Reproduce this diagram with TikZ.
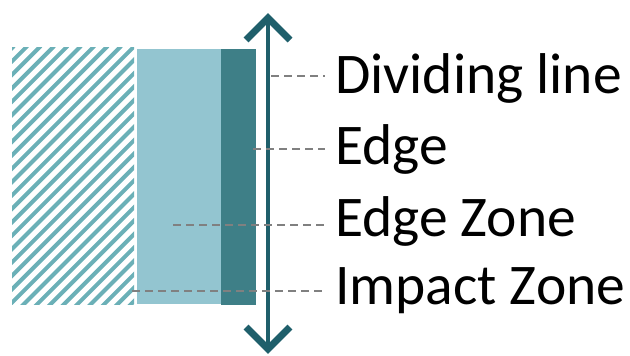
\documentclass[tikz,border=0pt]{standalone}
\usepackage{fontspec}
\setmainfont{Carlito}
\definecolor{hatchc}{HTML}{6BB0B7}
\definecolor{lightc}{HTML}{93C5D0}
\definecolor{darkc}{HTML}{3E7F87}
\definecolor{arrowc}{HTML}{1F5F6B}
\definecolor{dashc}{HTML}{808080}
\tikzset{
  lbl/.style={anchor=base west, inner sep=0pt, font=\fontsize{57.5}{62}\selectfont, text=black},
  leader/.style={draw=dashc, line width=2.5pt, dash pattern=on 8pt off 5pt},
  axisline/.style={draw=arrowc, line width=4.5pt},
  chevron/.style={draw=arrowc, line width=7pt, miter limit=10},
  hatchline/.style={draw=hatchc, line width=4pt}
}
\begin{document}
\begin{tikzpicture}[x=1pt, y=-1pt]
\useasboundingbox (0,0) rectangle (630,356);
% hatched area
\begin{scope}
  \clip (12,47) rectangle (134,304);
  \foreach \k in {0,...,32} {
    \draw[hatchline] (14+\k*13.4-270,304+12) -- (14+\k*13.4,304-270+12);
  }
\end{scope}
% zones
\fill[lightc] (137,49) rectangle (222,304);
\fill[darkc] (221,49) rectangle (256,305);
% dividing line with arrows
\coordinate (top) at (268,18);
\coordinate (bot) at (268,349);
\draw[axisline] (top) -- (bot);
\draw[chevron] (246,40) -- (top) -- (290,40);
\draw[chevron] (246,327) -- (bot) -- (290,327);
% labels
\node[lbl] (l1) at (335,93) {Dividing line};
\node[lbl] (l2) at (335,164) {Edge};
\node[lbl] (l3) at (335,236) {Edge Zone};
\node[lbl] (l4) at (335,304) {Impact Zone};
% leader lines
\coordinate (s1) at (271,76);
\coordinate (s2) at (253,149);
\coordinate (s3) at (173,225);
\coordinate (s4) at (132,291);
\draw[leader] (s1) -- (s1 -| 325,0);
\draw[leader] (s2) -- (s2 -| 325,0);
\draw[leader] (s3) -- (s3 -| 325,0);
\draw[leader] (s4) -- (s4 -| 325,0);
\end{tikzpicture}
\end{document}
